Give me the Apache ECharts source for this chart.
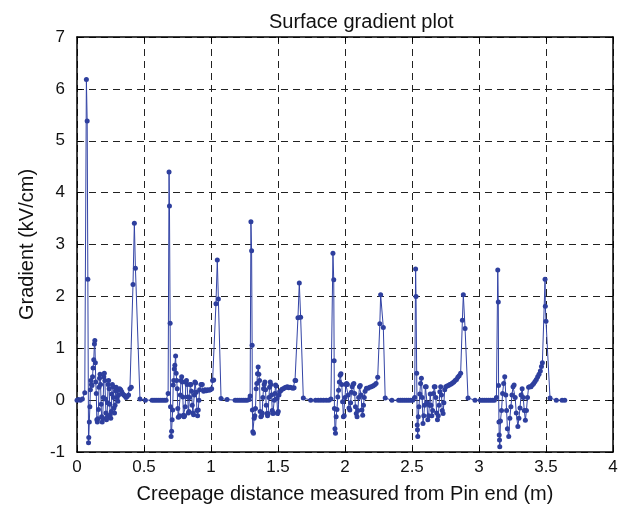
<!DOCTYPE html>
<html>
<head>
<meta charset="utf-8">
<script src="https://cdn.jsdelivr.net/npm/echarts@6/dist/echarts.min.js"></script>
<style>
    html, body { margin: 0; padding: 0; background: #fff; }
    #chart { width: 631px; height: 510px; }
</style>
</head>
<body>
<div id="chart"></div>
<script>
// creepage distance (m), gradient (kV/cm)
const disc1 = [
    [0,0],[0.012,0.01],[0.025,0],[0.04,0.02],[0.058,0.14],[0.07,6.18],[0.076,5.38],[0.081,2.33],[0.086,-0.82],[0.088,-0.72],
    [0.092,-0.42],[0.096,-0.13],[0.1,0.2],[0.104,0.38],[0.108,0.3],[0.112,0.28],[0.116,0.45],[0.12,0.62],[0.125,0.78],[0.13,1.08],
    [0.133,1.15],[0.137,0.72],[0.14,0.35],[0.144,0.13],[0.148,-0.38],[0.152,-0.42],[0.156,-0.36],[0.16,-0.18],[0.164,0.25],[0.168,0.42],
    [0.172,0.5],[0.176,0.3],[0.18,-0.08],[0.184,-0.32],[0.188,-0.42],[0.192,-0.35],[0.196,0.05],[0.2,0.45],[0.204,0.52],[0.208,0.38],
    [0.212,0.02],[0.216,-0.25],[0.22,-0.38],[0.224,-0.33],[0.228,-0.05],[0.232,0.3],[0.236,0.38],[0.24,0.22],[0.244,-0.08],[0.248,-0.28],
    [0.252,-0.35],[0.256,-0.22],[0.26,0.12],[0.264,0.3],[0.268,0.26],[0.272,0.05],[0.276,-0.15],[0.28,-0.25],[0.284,-0.1],[0.288,0.18],
    [0.292,0.25],[0.296,0.18],[0.3,0.05],[0.305,-0.02],[0.31,0.1],[0.318,0.22],[0.326,0.2],[0.334,0.16],[0.342,0.12],[0.35,0.1],
    [0.358,0.08],[0.366,0.05],[0.374,0.07],[0.385,0.1],[0.395,0.22],[0.405,0.25],
    [0.418,2.23],[0.428,3.41],[0.436,2.54],[0.47,0.02]
];
const disc2 = [
    [0.51,0],[0.56,0],[0.575,0],[0.59,0],[0.605,0],[0.62,0],[0.635,0],[0.65,0],[0.665,0],[0.68,0.13],
    [0.687,4.4],[0.69,3.74],[0.695,1.48],[0.698,-0.13],[0.702,-0.7],[0.706,-0.6],[0.71,-0.38],[0.714,-0.19],[0.718,0.29],[0.722,0.38],
    [0.726,0.6],[0.73,0.67],[0.736,0.85],[0.74,0.52],[0.744,0.38],[0.748,0.22],[0.752,-0.16],[0.756,-0.33],[0.761,-0.32],[0.766,-0.3],
    [0.771,0.1],[0.776,0.38],[0.781,0.45],[0.786,0.35],[0.79,0.06],[0.794,-0.29],[0.798,-0.32],[0.803,-0.3],[0.808,-0.13],[0.812,0.35],
    [0.817,0.38],[0.822,0.3],[0.827,0.06],[0.831,-0.25],[0.835,-0.22],[0.84,0.05],[0.845,0.3],[0.85,0.3],[0.855,0.17],[0.86,-0.1],
    [0.865,-0.25],[0.87,-0.28],[0.875,0.1],[0.88,0.35],[0.885,0.33],[0.89,0.15],[0.895,-0.2],[0.9,-0.3],[0.905,-0.19],[0.91,0.0],
    [0.915,0.2],[0.925,0.3],[0.935,0.3],[0.945,0.17],[0.955,0.2],[0.965,0.18],[0.975,0.2],[0.985,0.19],[0.995,0.2],[1.005,0.22],
    [1.012,0.38],[1.02,0.39],
    [1.037,1.86],[1.047,2.7],[1.055,1.95],[1.075,0.03]
];
const disc3 = [
    [1.12,0.01],[1.18,0],[1.195,0],[1.21,0],[1.225,0],[1.24,0],[1.255,0],[1.27,0],[1.285,0.01],[1.292,0.08],
    [1.298,3.44],[1.303,2.88],[1.307,1.06],[1.309,-0.19],
    [1.312,-0.61],[1.317,-0.64],[1.322,-0.35],[1.327,-0.3],[1.332,-0.16],[1.337,0.22],[1.342,0.32],[1.347,0.51],[1.352,0.64],[1.357,0.5],
    [1.362,0.38],[1.367,-0.22],[1.372,-0.32],[1.377,-0.3],[1.382,-0.25],[1.387,0.05],[1.392,0.22],[1.397,0.3],[1.402,0.35],[1.407,0.2],
    [1.412,-0.1],[1.417,-0.26],[1.422,-0.3],[1.427,-0.26],[1.432,0.05],[1.437,0.25],[1.442,0.35],[1.447,0.3],[1.452,0.1],[1.457,-0.2],
    [1.462,-0.26],[1.467,-0.25],[1.472,0.0],[1.477,0.13],[1.482,0.29],[1.487,0.27],[1.492,0.03],[1.497,-0.26],[1.502,-0.22],[1.507,0.1],
    [1.512,0.16],[1.52,0.18],[1.53,0.21],[1.54,0.22],[1.55,0.24],[1.56,0.25],[1.57,0.26],[1.58,0.24],[1.59,0.25],[1.6,0.24],
    [1.612,0.23],[1.62,0.24],[1.627,0.38],[1.632,0.38],
    [1.649,1.59],[1.659,2.26],[1.669,1.6],[1.689,0.04]
];
const disc4 = [
    [1.744,0],[1.78,0],[1.8,0],[1.82,0],[1.84,0],[1.86,0],[1.88,0],[1.895,0.02],
    [1.91,2.83],[1.916,2.32],[1.919,0.76],
    [1.921,-0.16],[1.925,-0.55],[1.929,-0.64],[1.934,-0.32],[1.94,-0.18],[1.946,0.06],[1.952,0.19],[1.958,0.35],[1.964,0.48],[1.97,0.51],
    [1.976,0.3],[1.982,-0.03],[1.988,-0.32],[1.994,-0.3],[2.0,0.05],[2.006,0.3],[2.012,0.32],[2.018,0.3],[2.024,0.1],[2.03,-0.15],
    [2.036,-0.19],[2.042,-0.05],[2.048,0.15],[2.054,0.26],[2.06,0.3],[2.066,0.32],[2.072,0.13],[2.078,-0.13],[2.084,-0.26],[2.09,-0.32],
    [2.096,-0.2],[2.102,0.05],[2.108,0.26],[2.114,0.28],[2.12,0.1],[2.126,-0.19],[2.132,-0.29],[2.138,-0.1],[2.144,0.05],[2.15,0.17],
    [2.16,0.23],[2.172,0.23],[2.184,0.25],[2.196,0.26],[2.208,0.27],[2.22,0.29],[2.232,0.32],[2.244,0.44],
    [2.26,1.47],[2.266,2.03],[2.286,1.4],[2.3,0.04]
];
const disc5 = [
    [2.35,0],[2.4,0],[2.415,0],[2.43,0],[2.445,0],[2.46,0],[2.475,0],[2.49,0],[2.505,0],[2.52,0.05],
    [2.527,2.53],[2.53,2.0],[2.535,0.52],
    [2.539,-0.48],[2.541,-0.57],[2.543,-0.7],[2.547,-0.32],[2.552,-0.13],[2.558,0.12],[2.564,0.32],[2.57,0.42],[2.576,0.05],[2.582,-0.45],
    [2.588,-0.3],[2.594,-0.1],[2.6,0.26],[2.606,0.26],[2.612,-0.05],[2.618,-0.38],[2.624,-0.3],[2.63,-0.1],[2.636,0.12],[2.642,-0.1],
    [2.648,-0.3],[2.654,-0.2],[2.66,0.13],[2.666,0.26],[2.672,0.26],[2.678,0.05],[2.684,-0.25],[2.69,-0.38],[2.696,-0.3],[2.702,-0.1],
    [2.708,0.16],[2.714,0.26],[2.72,0.1],[2.726,-0.2],[2.732,-0.26],[2.738,-0.05],[2.744,0.2],
    [2.752,0.26],[2.762,0.27],[2.772,0.28],[2.782,0.3],[2.792,0.31],[2.802,0.33],[2.812,0.35],[2.822,0.38],[2.832,0.4],[2.842,0.44],
    [2.852,0.47],[2.863,0.52],
    [2.876,1.54],[2.883,2.03],[2.896,1.38],[2.918,0.04]
];
const disc6 = [
    [2.97,0],[3.01,0],[3.025,0],[3.04,0],[3.055,0],[3.07,0],[3.085,0],[3.1,0],[3.115,0],[3.13,0.05],
    [3.14,2.51],[3.144,1.89],[3.146,0.28],
    [3.149,-0.42],[3.151,-0.67],[3.153,-0.77],[3.155,-0.9],[3.16,-0.4],[3.168,-0.2],[3.176,0.13],[3.184,0.32],[3.192,0.45],[3.2,0.1],
    [3.206,-0.2],[3.212,-0.55],[3.222,-0.7],[3.23,-0.35],[3.238,-0.13],[3.246,0.1],[3.254,0.26],[3.262,0.29],[3.27,0.05],[3.278,-0.25],
    [3.29,-0.51],[3.298,-0.35],[3.306,-0.15],[3.314,0.1],[3.322,0.22],[3.33,0.05],[3.338,-0.2],[3.346,-0.39],[3.354,-0.2],[3.362,0.05],
    [3.37,0.25],[3.378,0.26],
    [3.388,0.26],[3.398,0.29],[3.408,0.32],[3.418,0.36],[3.428,0.4],[3.438,0.45],[3.448,0.5],[3.458,0.56],[3.466,0.65],[3.473,0.72],
    [3.493,2.33],[3.495,1.81],[3.5,1.52],[3.53,0.04],[3.577,0],[3.62,0],[3.64,0]
];

const xTicks = { min: 0, max: 4, step: 0.5 };
const yTicks = { min: -1, max: 7, step: 1 };

const points = disc1.concat(disc2, disc3, disc4, disc5, disc6);

const chart = echarts.init(document.getElementById('chart'), null, { renderer: 'canvas' });

const font = 'Liberation Sans, Arial, sans-serif';
const frameLine = { show: true, onZero: false, lineStyle: { color: '#000', width: 1.5 } };
const inTick = { show: true, inside: true, length: 5, lineStyle: { color: '#000', width: 1 } };
const dashGrid = { show: true, lineStyle: { color: '#222', width: 1, type: [7, 5] } };

chart.setOption({
    animation: false,
    backgroundColor: '#fff',
    title: {
        text: 'Surface gradient plot',
        left: 264,
        top: 7,
        textStyle: { fontFamily: font, fontSize: 20, fontWeight: 'normal', color: '#111' }
    },
    grid: { left: 77, right: 18, top: 37, bottom: 58 },
    xAxis: [{
        type: 'value',
        min: xTicks.min, max: xTicks.max, interval: xTicks.step,
        name: 'Creepage distance measured from Pin end (m)',
        nameLocation: 'middle',
        nameGap: 32,
        nameTextStyle: { fontFamily: font, fontSize: 20, color: '#111' },
        axisLine: frameLine,
        axisTick: inTick,
        splitLine: dashGrid,
        axisLabel: { fontFamily: font, fontSize: 17, color: '#111', margin: 7 }
    }, {
        type: 'value', position: 'top',
        min: xTicks.min, max: xTicks.max, interval: xTicks.step,
        axisLine: frameLine, axisTick: inTick,
        splitLine: { show: false }, axisLabel: { show: false }
    }],
    yAxis: [{
        type: 'value',
        min: yTicks.min, max: yTicks.max, interval: yTicks.step,
        name: 'Gradient (kV/cm)',
        nameLocation: 'middle',
        nameGap: 40,
        nameTextStyle: { fontFamily: font, fontSize: 20, color: '#111' },
        axisLine: frameLine,
        axisTick: inTick,
        splitLine: dashGrid,
        axisLabel: { fontFamily: font, fontSize: 17, color: '#111', margin: 12 }
    }, {
        type: 'value', position: 'right',
        min: yTicks.min, max: yTicks.max, interval: yTicks.step,
        axisLine: frameLine, axisTick: inTick,
        splitLine: { show: false }, axisLabel: { show: false }
    }],
    series: [{
        name: 'Gradient',
        type: 'line',
        data: points,
        showAllSymbol: true,
        symbol: 'circle',
        symbolSize: 5,
        lineStyle: { color: '#3344a6', width: 1 },
        itemStyle: { color: '#2e3f9e' },
        z: 3
    }]
});
</script>
</body>
</html>
